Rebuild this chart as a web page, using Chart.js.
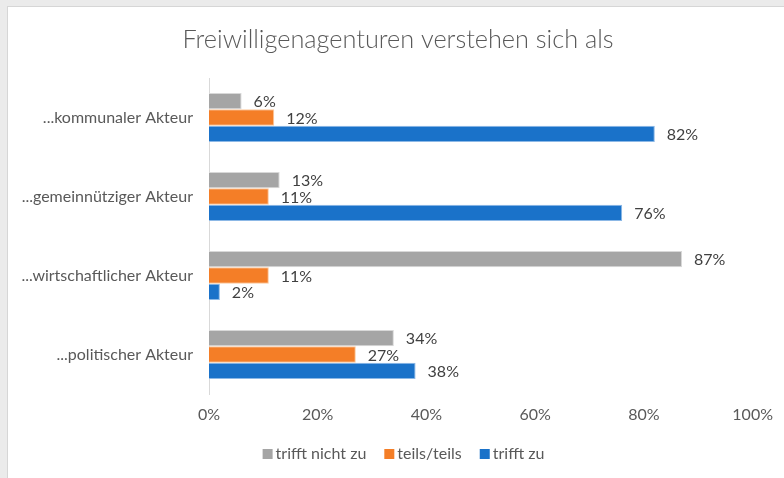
<!DOCTYPE html>
<html><head><meta charset="utf-8">
<script src="https://cdn.jsdelivr.net/npm/chart.js@4/dist/chart.umd.min.js"></script>
<style>
html,body{margin:0;padding:0;background:#ebebeb;width:784px;height:478px;overflow:hidden}
#panel{position:absolute;left:7px;top:6px;width:777px;height:472px;background:#fff;border-top:1px solid #d6d6d6;border-left:1px solid #d6d6d6}
#c{display:block}
</style></head><body>
<div id="panel"><canvas id="c" width="776" height="471"></canvas></div>
<script>
const titleText = "Freiwilligenagenturen verstehen sich als";
const categories = ["...kommunaler Akteur","...gemeinnütziger Akteur","...wirtschaftlicher Akteur","...politischer Akteur"];
const trifftNichtZu = [6,13,87,34];
const teilsTeils = [12,11,11,27];
const trifftZu = [82,76,2,38];
const xTicks = [0,20,40,60,80,100];
const seriesNames = ["trifft nicht zu","teils/teils","trifft zu"];
const FONT = "Lato, 'Open Sans', sans-serif";

const labelPlugin = {
  id:'vlabels',
  afterDatasetsDraw(chart){
    const ctx = chart.ctx;
    ctx.save();
    ctx.font = "16px "+FONT;
    ctx.fillStyle = "#404040";
    ctx.textBaseline = "middle";
    ctx.textAlign = "left";
    chart.data.datasets.forEach((ds,i)=>{
      chart.getDatasetMeta(i).data.forEach((el,j)=>{
        ctx.fillText(ds.data[j]+"%", el.x+12, el.y+1);
      });
    });
    ctx.restore();
  }
};

const titleLegendPlugin = {
  id:'titleLegend',
  afterDraw(chart){
    const ctx = chart.ctx;
    ctx.save();
    // title
    ctx.font = "300 25.3px "+FONT;
    ctx.fillStyle = '#595959';
    ctx.textAlign = 'center';
    ctx.textBaseline = 'middle';
    ctx.fillText(titleText, 390, 33);
    // legend
    ctx.font = "16px "+FONT;
    ctx.textAlign = "left";
    const box = 10, gapBT = 3, gapItem = 18;
    const items = chart.data.datasets.map(ds=>({t:ds.label,c:ds.backgroundColor,w:ctx.measureText(ds.label).width}));
    let total = items.reduce((a,it)=>a+box+gapBT+it.w,0) + gapItem*(items.length-1);
    let x = 395.5 - total/2;
    const y = chart.chartArea.bottom + 60;
    items.forEach(it=>{
      ctx.fillStyle = it.c;
      ctx.fillRect(x, y-box/2, box, box);
      ctx.fillStyle = '#595959';
      ctx.fillText(it.t, x+box+gapBT, y);
      x += box+gapBT+it.w+gapItem;
    });
    ctx.restore();
  }
};

new Chart(document.getElementById('c'),{
  type:'bar',
  data:{
    labels:categories,
    datasets:[
      {label:seriesNames[0],data:trifftNichtZu,backgroundColor:'#a5a5a5',borderColor:'#d8d8d8',borderWidth:{top:1,bottom:1,right:1,left:0}},
      {label:seriesNames[1],data:teilsTeils,backgroundColor:'#f47e27',borderColor:'#fbc89c',borderWidth:{top:1,bottom:1,right:1,left:0}},
      {label:seriesNames[2],data:trifftZu,backgroundColor:'#1a72c9',borderColor:'#8cb8e6',borderWidth:{top:1,bottom:1,right:1,left:0}}
    ]
  },
  options:{
    indexAxis:'y',
    responsive:false,
    animation:false,
    devicePixelRatio:1,
    layout:{padding:{left:0,right:14,top:71,bottom:0}},
    datasets:{bar:{categoryPercentage:0.62,barPercentage:1}},
    scales:{
      x:{min:0,max:100,
        afterBuildTicks(s){ s.ticks = xTicks.map(v=>({value:v})); },
        grid:{display:false,drawTicks:false},
        border:{display:false},
        ticks:{padding:11,color:'#595959',font:{family:FONT,size:16},callback:v=>v+'%'},
        afterFit(s){ s.height = 84; }
      },
      y:{
        grid:{display:false,drawTicks:false},
        border:{display:true,color:'#d9d9d9',width:1},
        ticks:{padding:16,color:'#595959',font:{family:FONT,size:16}},
        afterFit(s){ s.width = 201; }
      }
    },
    plugins:{
      title:{display:false},
      legend:{display:false},
      tooltip:{enabled:false}
    }
  },
  plugins:[labelPlugin,titleLegendPlugin]
});
</script>
</body></html>
